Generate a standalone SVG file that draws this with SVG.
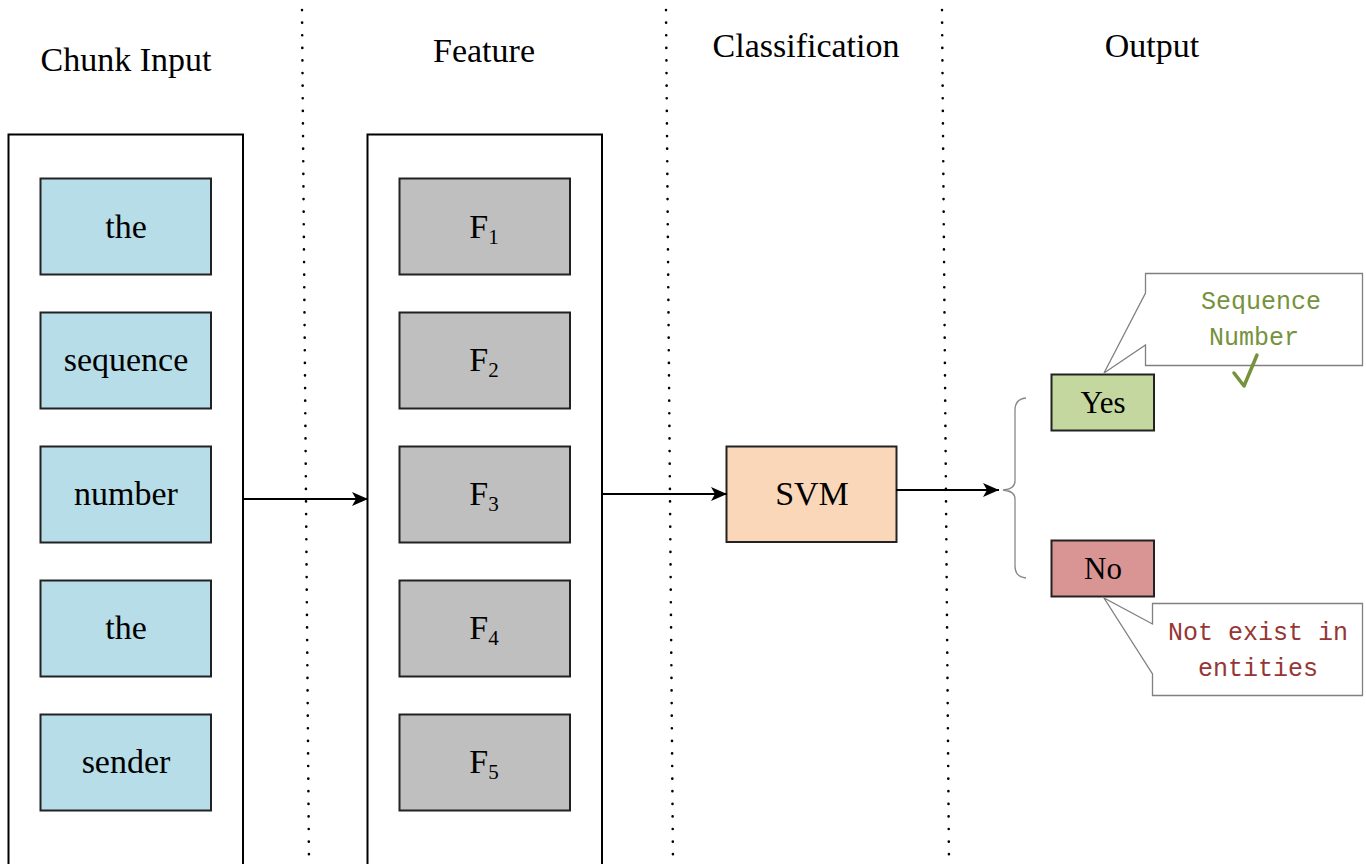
<svg xmlns="http://www.w3.org/2000/svg" width="1366" height="864" viewBox="0 0 1366 864">
<style>
.t{font-family:"Liberation Serif",serif;font-size:34px;fill:#000;text-anchor:middle}
.h{font-family:"Liberation Serif",serif;font-size:34px;fill:#000;text-anchor:middle}
.sub{font-size:21px}
.outer{fill:#fff;stroke:#000;stroke-width:2}
.blue{fill:#b7dde8;stroke:#222;stroke-width:2}
.grey{fill:#bfbfbf;stroke:#222;stroke-width:2}
.dot{stroke:#000;stroke-width:2.6;stroke-dasharray:0.1 12.5;stroke-linecap:round;fill:none}
.conn{stroke:#000;stroke-width:2;fill:none}
.call{fill:#fff;stroke:#808080;stroke-width:1.3}
.mono{font-family:"Liberation Mono",monospace;font-size:25px;text-anchor:middle}
</style>
<defs>
<marker id="arr" markerWidth="16" markerHeight="14" refX="16" refY="7" orient="auto" markerUnits="userSpaceOnUse" viewBox="0 0 16 14">
<path d="M0,0 L16,7 L0,14 L4,7 Z" fill="#000"/>
</marker>
</defs>
<rect width="1366" height="864" fill="#fff"/>
<g id="dividers">
<line class="dot" x1="302" y1="10" x2="309" y2="864"/>
<line class="dot" x1="666" y1="10" x2="673" y2="864"/>
<line class="dot" x1="942" y1="10" x2="949" y2="864"/>
</g>
<g id="headers">
<text class="h" x="126" y="71">Chunk Input</text>
<text class="h" x="484" y="62">Feature</text>
<text class="h" x="806" y="57">Classification</text>
<text class="h" x="1152" y="57">Output</text>
</g>
<g id="chunk-input">
<rect class="outer" x="8.5" y="134.5" width="234.5" height="740"/>
<g id="w1"><rect class="blue" x="40.5" y="178.5" width="170.5" height="96"/><text class="t" x="126" y="238">the</text></g>
<g id="w2"><rect class="blue" x="40.5" y="312.5" width="170.5" height="96"/><text class="t" x="126" y="371">sequence</text></g>
<g id="w3"><rect class="blue" x="40.5" y="446.5" width="170.5" height="96"/><text class="t" x="126" y="505">number</text></g>
<g id="w4"><rect class="blue" x="40.5" y="580.5" width="170.5" height="96"/><text class="t" x="126" y="639">the</text></g>
<g id="w5"><rect class="blue" x="40.5" y="714.5" width="170.5" height="96"/><text class="t" x="126" y="773">sender</text></g>
</g>
<g id="feature">
<rect class="outer" x="367.5" y="134.5" width="234.5" height="740"/>
<g id="f1"><rect class="grey" x="399.5" y="178.5" width="170.5" height="96"/><text class="t" x="484" y="238">F<tspan class="sub" dy="6">1</tspan></text></g>
<g id="f2"><rect class="grey" x="399.5" y="312.5" width="170.5" height="96"/><text class="t" x="484" y="371">F<tspan class="sub" dy="6">2</tspan></text></g>
<g id="f3"><rect class="grey" x="399.5" y="446.5" width="170.5" height="96"/><text class="t" x="484" y="505">F<tspan class="sub" dy="6">3</tspan></text></g>
<g id="f4"><rect class="grey" x="399.5" y="580.5" width="170.5" height="96"/><text class="t" x="484" y="639">F<tspan class="sub" dy="6">4</tspan></text></g>
<g id="f5"><rect class="grey" x="399.5" y="714.5" width="170.5" height="96"/><text class="t" x="484" y="773">F<tspan class="sub" dy="6">5</tspan></text></g>
</g>
<g id="svm">
<rect x="726.5" y="446.5" width="170" height="95.5" fill="#fbd7b9" stroke="#222" stroke-width="2"/>
<text class="t" x="812" y="505">SVM</text>
</g>
<g id="connectors">
<line class="conn" x1="243" y1="499" x2="368" y2="499" marker-end="url(#arr)"/>
<line class="conn" x1="602" y1="494" x2="727" y2="494" marker-end="url(#arr)"/>
<line class="conn" x1="896" y1="490" x2="999" y2="490" marker-end="url(#arr)"/>
<path d="M1026,398 Q1015,399 1015,410 L1015,481 Q1015,489 1003,490 Q1015,491 1015,499 L1015,566 Q1015,577 1026,578" fill="none" stroke="#888" stroke-width="1.3"/>
</g>
<g id="yes">
<rect x="1051.5" y="374.5" width="102.5" height="56" fill="#c4d79f" stroke="#222" stroke-width="2"/>
<text class="t" x="1103" y="413" style="font-size:31px">Yes</text>
</g>
<g id="no">
<rect x="1051.5" y="540.5" width="102.5" height="56" fill="#d99594" stroke="#222" stroke-width="2"/>
<text class="t" x="1103" y="579" style="font-size:31px">No</text>
</g>
<g id="callout-yes">
<path class="call" d="M1145.5,273.5 L1362.5,273.5 L1362.5,365.5 L1145.5,365.5 L1145.5,345 L1104,373 L1145.5,293 Z"/>
<text class="mono" x="1261" y="309" fill="#76923c">Sequence</text>
<text class="mono" x="1254" y="345" fill="#76923c">Number</text>
<path d="M1234,373 L1244,386 L1257,355" fill="none" stroke="#76923c" stroke-width="3.5" stroke-linecap="round" stroke-linejoin="round"/>
</g>
<g id="callout-no">
<path class="call" d="M1152.5,603.5 L1362.5,603.5 L1362.5,695.5 L1152.5,695.5 L1152.5,674 L1104,598 L1152.5,624 Z"/>
<text class="mono" x="1258" y="640" fill="#953734">Not exist in</text>
<text class="mono" x="1258" y="676" fill="#953734">entities</text>
</g>
</svg>
